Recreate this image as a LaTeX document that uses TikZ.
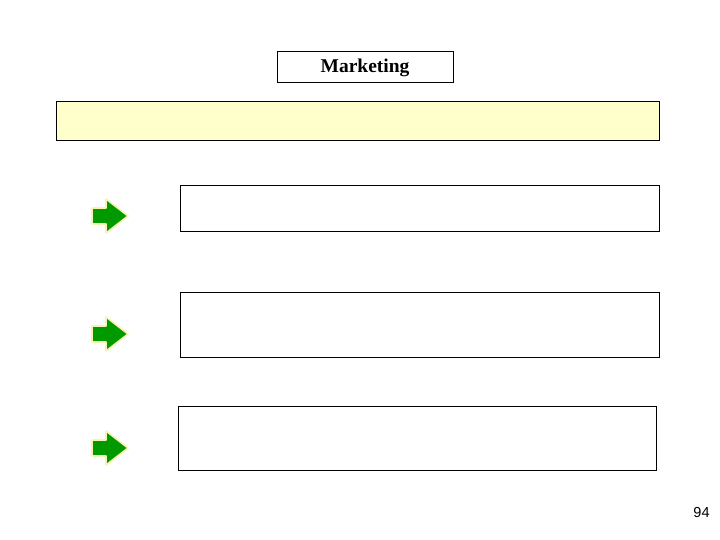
\documentclass[tikz,border=0pt]{standalone}
\usepackage{fontspec}
\usetikzlibrary{calc}
\setmainfont{Liberation Serif}
\newfontfamily\pagefont{Liberation Sans}
\definecolor{bandyellow}{HTML}{FFFFCC}
\definecolor{arrowgreen}{HTML}{009900}
\definecolor{glow}{HTML}{F4F4B0}
\begin{document}
\begin{tikzpicture}[x=1pt,y=-1pt,
  frame/.style={draw=black,line width=0.8pt,inner sep=0pt},
  greenarrow/.style={fill=arrowgreen,draw=glow,line width=1.6pt,line join=round}]
\useasboundingbox (0,0) rectangle (720,540);
\node[frame,minimum width=176pt,minimum height=31pt] (title) at (365,66.5) {};
\node[inner sep=0pt] (titletext) at (365,67.5) {\bfseries\fontsize{19.5}{22}\selectfont Marketing};
\node[frame,fill=bandyellow,minimum width=603pt,minimum height=39pt] (band) at (357.5,120.5) {};
\node[frame,minimum width=479pt,minimum height=46pt] (box1) at (419.5,208) {};
\node[frame,minimum width=479pt,minimum height=65pt] (box2) at (419.5,324.5) {};
\node[frame,minimum width=478pt,minimum height=64pt] (box3) at (417,438) {};
\foreach \n/\y in {a1/216,a2/334,a3/448}{
  \coordinate (\n) at (92,\y);
  \draw[greenarrow] ($(\n)+(0,-8)$) -- ++(14,0) -- ++(0,-9) -- ++(22,17) -- ++(-22,17) -- ++(0,-9) -- ++(-14,0) -- cycle;
}
\node[inner sep=0pt] (page) at (701.5,513) {\pagefont\fontsize{14.5}{16}\selectfont 94};
\end{tikzpicture}
\end{document}
